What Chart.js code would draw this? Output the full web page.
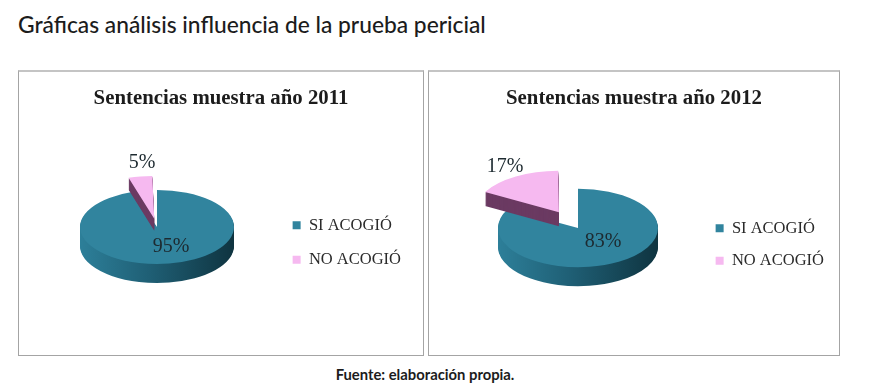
<!DOCTYPE html>
<html>
<head>
<meta charset="utf-8">
<script src="https://cdn.jsdelivr.net/npm/chart.js@4"></script>
<style>
html, body { margin: 0; padding: 0; background: #fff; }
body { width: 880px; height: 386px; position: relative; overflow: hidden; }
#heading { position: absolute; left: 18px; top: 11px; font: 500 22.75px "Lato", sans-serif; color: #1c1c1c; white-space: nowrap; }
#source { position: absolute; left: 0; width: 850px; top: 365px; text-align: center; font: 700 14.8px "Lato", sans-serif; color: #1c1c1c; }
.panel { position: absolute; top: 70px; height: 283px; width: 404px; border: 1px solid #a4a4a4; border-top: 2px solid #c4c4c4; }
.panel canvas { display: block; filter: blur(0.35px); }
</style>
</head>
<body>
<div id="heading">Gráficas análisis influencia de la prueba pericial</div>
<div class="panel" style="left:18px"><canvas id="c2011" width="404" height="283"></canvas></div>
<div class="panel" style="left:428px;width:410px"><canvas id="c2012" width="410" height="283"></canvas></div>
<div id="source">Fuente: elaboración propia.</div>
<script>
const categories = ['SI ACOGIÓ', 'NO ACOGIÓ'];
const values2011 = [95, 5];
const values2012 = [83, 17];
const title2011 = 'Sentencias muestra año 2011';
const title2012 = 'Sentencias muestra año 2012';

const TEAL = '#31849e';
const PINK = '#f6b9f0';

// Chart.js pies are flat circles, so squash them and stack dark copies for the rim
const pie3d = {
    id: 'pie3d',
    afterLayout(chart, args, opts) {
        // the legend sits lower than the middle of the panel
        chart.legend.top += opts.legendShift;
        chart.legend.bottom += opts.legendShift;
    },
    beforeDatasetDraw(chart, args, opts) {
        const ctx = chart.ctx;
        const arcs = args.meta.data;
        const cx = arcs[0].x, cy = arcs[0].y;
        const r = arcs[0].outerRadius;
        const place = (dy) => {
            ctx.translate(opts.x, opts.y + dy);
            ctx.scale(1, opts.squash);
            ctx.translate(-cx, -cy);
        };
        const rim = ctx.createLinearGradient(cx - r, 0, cx + r, 0);
        rim.addColorStop(0, '#2d7f99');
        rim.addColorStop(0.45, '#1f5f75');
        rim.addColorStop(1, '#0f3440');
        arcs.forEach((arc, i) => {
            const base = arc.options;
            const depth = i === 0 ? opts.depth : opts.sliceDepth;
            arc.options = Object.assign({}, base, { backgroundColor: i === 0 ? rim : '#6b3a62' });
            for (let d = depth; d > 0; d--) {
                ctx.save();
                place(d);
                arc.draw(ctx);
                ctx.restore();
            }
            arc.options = base;
            ctx.save();
            place(0);
            arc.draw(ctx);
            ctx.restore();
        });
        ctx.font = '20px "Liberation Serif"';
        ctx.fillStyle = '#1d2a30';
        ctx.textAlign = 'center';
        ctx.textBaseline = 'middle';
        args.meta._parsed.forEach((v, i) => {
            ctx.fillText(v + '%', opts.labels[i][0], opts.labels[i][1]);
        });
        return false;
    }
};

function makePie(id, title, values, offset, place, side, legendGap) {
    return new Chart(document.getElementById(id), {
        type: 'pie',
        data: {
            labels: categories,
            datasets: [{
                data: values,
                backgroundColor: [TEAL, PINK],
                borderWidth: 0,
                offset: [0, offset],
                radius: place.radius,
                clip: false
            }]
        },
        options: {
            responsive: false,
            animation: false,
            layout: { padding: { left: side, right: side } },
            plugins: {
                title: {
                    display: true,
                    text: title,
                    color: '#1c1c1c',
                    font: { family: '"Liberation Serif"', size: 20.8, weight: 'bold' },
                    padding: { top: 14, bottom: 0 }
                },
                legend: {
                    position: 'right',
                    align: 'center',
                    labels: {
                        boxWidth: 8,
                        boxHeight: 8,
                        color: '#2a2a2a',
                        padding: legendGap,
                        font: { family: '"Liberation Serif"', size: 16.5 }
                    }
                },
                tooltip: { enabled: false },
                pie3d: place
            }
        },
        plugins: [pie3d]
    });
}

makePie('c2011', title2011, values2011, 70,
    { x: 138, y: 155, radius: 77, squash: 0.48, depth: 19, sliceDepth: 12, legendShift: 29,
      labels: [[152, 175], [123, 91]] }, 12, 18);
makePie('c2012', title2012, values2012, 150,
    { x: 149, y: 156, radius: 80, squash: 0.49, depth: 19, sliceDepth: 14, legendShift: 31,
      labels: [[174, 170], [76, 95]] }, 5, 16);
</script>
</body>
</html>
